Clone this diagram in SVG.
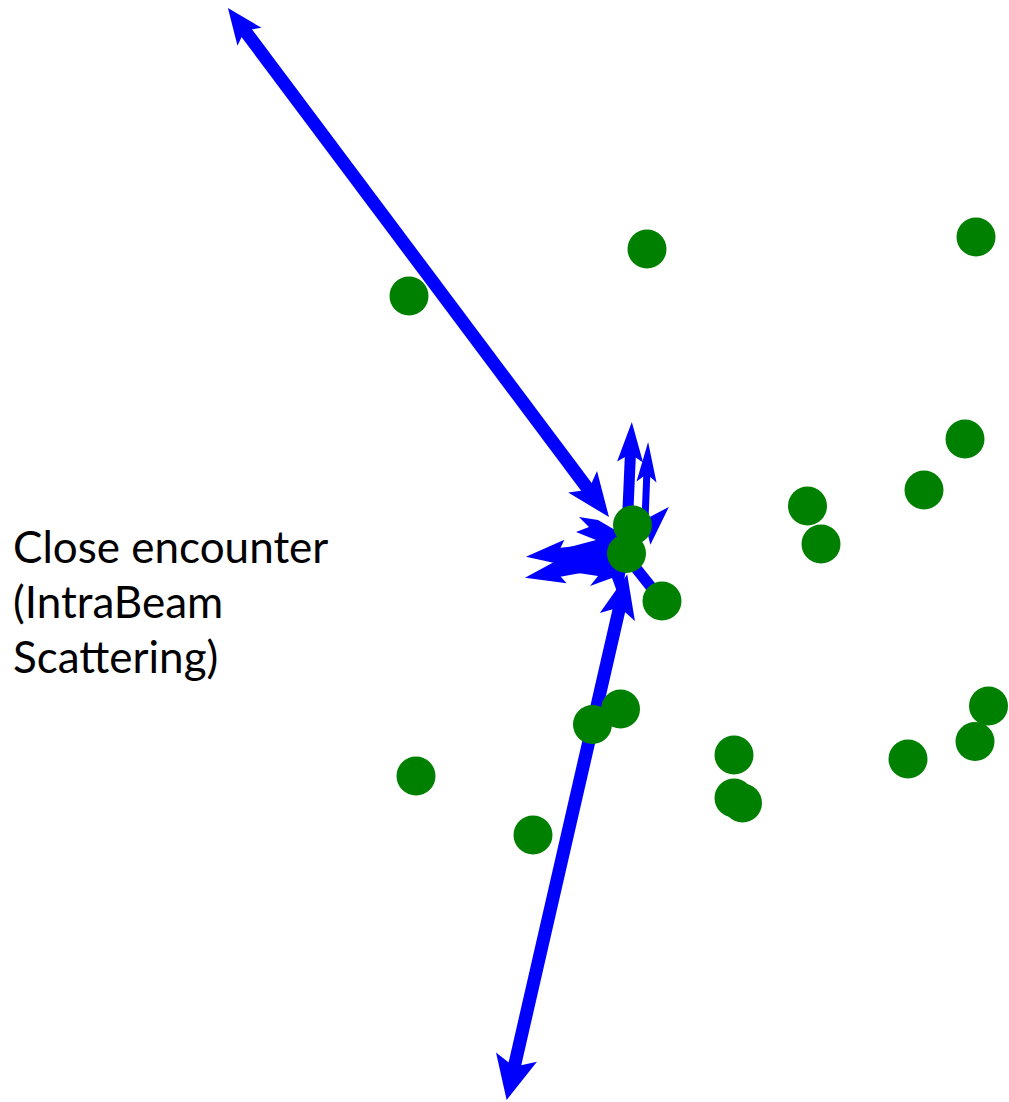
<svg xmlns="http://www.w3.org/2000/svg" width="1009" height="1102" viewBox="0 0 1009 1102">
  <style>
    .dot { fill: #008000; }
    .arr { stroke: #0000ff; fill: none; stroke-linecap: butt; }
    .blob { fill: #0000ff; }
    .lbl { font-family: Lato, "Open Sans", "Liberation Sans", sans-serif; font-size: 44px; fill: #000000; }
  </style>
  <defs>
    <marker id="headL" markerUnits="userSpaceOnUse" markerWidth="80" markerHeight="80" refX="0" refY="0" orient="auto-start-reverse" overflow="visible">
      <path d="M26,0 L-10,-15 L-2,0 L-10,15 Z" fill="#0000ff"/>
    </marker>
    <marker id="headXL" markerUnits="userSpaceOnUse" markerWidth="80" markerHeight="80" refX="0" refY="0" orient="auto-start-reverse" overflow="visible">
      <path d="M32,0 L-12,-21 L-2,0 L-12,21 Z" fill="#0000ff"/>
    </marker>
    <marker id="headM" markerUnits="userSpaceOnUse" markerWidth="80" markerHeight="80" refX="0" refY="0" orient="auto-start-reverse" overflow="visible">
      <path d="M30,0 L-14,-18 L-4,0 L-14,18 Z" fill="#0000ff"/>
    </marker>
    <marker id="headS" markerUnits="userSpaceOnUse" markerWidth="80" markerHeight="80" refX="0" refY="0" orient="auto-start-reverse" overflow="visible">
      <path d="M28,0 L-12,-13 L-4,0 L-12,13 Z" fill="#0000ff"/>
    </marker>
    <marker id="headT" markerUnits="userSpaceOnUse" markerWidth="80" markerHeight="80" refX="0" refY="0" orient="auto-start-reverse" overflow="visible">
      <path d="M28,0 L-12,-10 L-4,0 L-12,10 Z" fill="#0000ff"/>
    </marker>
  </defs>

  <g id="connectors">
    <polygon class="blob" points="598,520 579,517 589,527 576,532 596,540 566,548 558,556 558,570 598,576 590,586 612,578 620,600 628,560 615,530"/>
    <line class="arr" x1="591" y1="493" x2="243.5" y2="28.8" stroke-width="13" marker-start="url(#headM)" marker-end="url(#headL)"/>
    <line class="arr" x1="620.5" y1="603.4" x2="513.8" y2="1068.8" stroke-width="13" marker-start="url(#headM)" marker-end="url(#headXL)"/>
    <line class="arr" x1="627" y1="532" x2="630.6" y2="450" stroke-width="11" marker-end="url(#headS)"/>
    <line class="arr" x1="645" y1="520" x2="647" y2="470" stroke-width="7" marker-end="url(#headT)"/>
    <line class="arr" x1="630" y1="547" x2="649.4" y2="527" stroke-width="10" marker-end="url(#headS)"/>
    <line class="arr" x1="612" y1="548" x2="553.8" y2="554" stroke-width="11" marker-end="url(#headS)"/>
    <line class="arr" x1="610" y1="562" x2="552.5" y2="572.7" stroke-width="11" marker-end="url(#headS)"/>
    <line class="arr" x1="620" y1="548" x2="655" y2="592" stroke-width="11"/>
  </g>

  <g id="particles">
    <circle id="p1" class="dot" cx="647" cy="249" r="19.5"/>
    <circle id="p2" class="dot" cx="976" cy="237" r="19.5"/>
    <circle id="p3" class="dot" cx="409" cy="296" r="19.5"/>
    <circle id="p4" class="dot" cx="965" cy="439" r="19.5"/>
    <circle id="p5" class="dot" cx="924" cy="490" r="19.5"/>
    <circle id="p6" class="dot" cx="807.5" cy="506" r="19.5"/>
    <circle id="p7" class="dot" cx="821" cy="544" r="19.5"/>
    <circle id="p8" class="dot" cx="632.5" cy="525" r="19.5"/>
    <circle id="p9" class="dot" cx="626.5" cy="553.5" r="19.5"/>
    <circle id="p10" class="dot" cx="662" cy="601" r="19.5"/>
    <circle id="p11" class="dot" cx="620.5" cy="709" r="19.5"/>
    <circle id="p12" class="dot" cx="592.5" cy="724.5" r="19.5"/>
    <circle id="p13" class="dot" cx="416" cy="776" r="19.5"/>
    <circle id="p14" class="dot" cx="533" cy="835" r="19.5"/>
    <circle id="p15" class="dot" cx="734" cy="755" r="19.5"/>
    <circle id="p16" class="dot" cx="742.5" cy="803" r="19.5"/>
    <circle id="p17" class="dot" cx="734" cy="798" r="19.5"/>
    <circle id="p18" class="dot" cx="908" cy="759" r="19.5"/>
    <circle id="p19" class="dot" cx="988.5" cy="706" r="19.5"/>
    <circle id="p20" class="dot" cx="975" cy="741.5" r="19.5"/>
  </g>

  <g id="label">
    <text class="lbl" x="13" y="563">Close encounter</text>
    <text class="lbl" x="13" y="618">(IntraBeam</text>
    <text class="lbl" x="13" y="673">Scattering)</text>
  </g>
</svg>
